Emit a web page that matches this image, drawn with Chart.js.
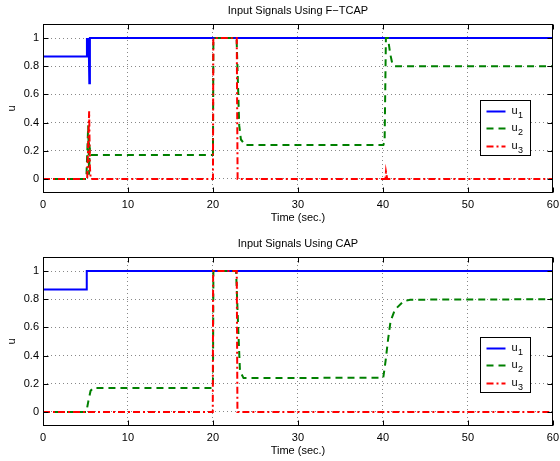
<!DOCTYPE html>
<html>
<head>
<meta charset="utf-8">
<script src="https://cdn.jsdelivr.net/npm/chart.js@4.4.0/dist/chart.umd.min.js"></script>
<style>
  html, body { margin: 0; padding: 0; background: #fff; overflow: hidden; }
  .plot { position: absolute; left: 0; width: 560px; height: 230px; }
</style>
</head>
<body>
<div class="plot" style="top:0"><canvas id="ftcap"></canvas></div>
<div class="plot" style="top:233px"><canvas id="cap"></canvas></div>
<script>
const xTicks = [0, 10, 20, 30, 40, 50, 60];
const yTicks = [0, 0.2, 0.4, 0.6, 0.8, 1];
const seriesNames = ["u₁", "u₂", "u₃"];

// F-TCAP run (time in sec., input value)
const ftcapT1 = [0, 5.15, 5.17, 5.22, 5.27, 5.32, 5.37, 5.45, 5.52, 60];
const ftcapU1 = [0.87, 0.87, 1, 0.88, 1, 0.9, 1, 0.68, 1, 1];
const ftcapT2 = [0, 5.1, 5.32, 5.42, 5.5, 5.65, 20.0, 20.05, 22.78, 23.09, 23.29, 23.8, 40.05, 40.2, 40.35, 40.6, 40.85, 41.1, 41.4, 60];
const ftcapU2 = [0, 0, 0.38, 0.03, 0.22, 0.17, 0.17, 1, 1, 0.38, 0.28, 0.24, 0.24, 0.27, 1, 1, 0.89, 0.82, 0.8, 0.8];
const ftcapT3 = [0, 5.2, 5.43, 5.52, 5.62, 20.0, 20.04, 22.8, 22.9, 40.3, 40.36, 40.5, 60];
const ftcapU3 = [0, 0, 0.48, 0.08, 0, 0, 1, 1, 0, 0, 0.05, 0, 0];

// CAP run
const capT1 = [0, 5.14, 5.15, 60];
const capU1 = [0.87, 0.87, 1, 1];
const capT2 = [0, 5.1, 5.35, 5.6, 5.9, 20.0, 20.05, 22.72, 22.98, 23.18, 23.6, 40.04, 40.31, 40.63, 40.9, 41.41, 42.4, 43.2, 60];
const capU2 = [0, 0, 0.08, 0.15, 0.17, 0.17, 1, 1, 0.58, 0.29, 0.24, 0.243, 0.36, 0.526, 0.644, 0.726, 0.785, 0.797, 0.8];
const capT3 = [0, 19.98, 20.02, 22.8, 22.88, 60];
const capU3 = [0, 0, 1, 1, 0, 0];

const seriesColors = ["#0000ff", "#008000", "#ff0000"];
const seriesDash = [[], [7, 5], [7, 3, 2, 3]];

const fontFamily = '"Liberation Sans", Arial, "DejaVu Sans", sans-serif';
Chart.defaults.font.family = fontFamily;
Chart.defaults.font.size = 11;
Chart.defaults.color = "#000";

// matlab style frame, inward ticks and boxed legend
const boxPlugin = {
  id: "boxLegend",
  afterDatasetsDraw(chart, args, opts) {
    const { ctx, chartArea: a, scales } = chart;
    const L = Math.round(a.left) + 0.5, R = Math.round(a.right) - 0.5;
    const T = Math.round(a.top) + 0.5, B = Math.round(a.bottom) - 0.5;
    ctx.save();
    ctx.strokeStyle = "#000";
    ctx.lineWidth = 1;
    ctx.setLineDash([]);
    ctx.strokeRect(L, T, R - L, B - T);
    ctx.beginPath();
    xTicks.forEach((v) => {
      const px = Math.round(scales.x.getPixelForValue(v)) + 0.5;
      ctx.moveTo(px, B); ctx.lineTo(px, B - 5);
      ctx.moveTo(px, T); ctx.lineTo(px, T + 5);
    });
    yTicks.forEach((v) => {
      const py = Math.round(scales.y.getPixelForValue(v)) + 0.5;
      ctx.moveTo(L, py); ctx.lineTo(L + 5, py);
      ctx.moveTo(R, py); ctx.lineTo(R - 5, py);
    });
    ctx.stroke();

    // legend box
    const w = 50, h = 55;
    const lx = Math.round(a.right - opts.right - w) + 0.5;
    const ly = Math.round(a.top + opts.top) + 0.5;
    ctx.fillStyle = "#fff";
    ctx.fillRect(lx, ly, w, h);
    ctx.strokeRect(lx, ly, w, h);
    chart.data.datasets.forEach((ds, i) => {
      const ry = Math.round(ly + 10 + i * 17.5) + 0.5;
      ctx.beginPath();
      ctx.strokeStyle = ds.borderColor;
      ctx.lineWidth = ds.borderWidth;
      ctx.setLineDash(ds.borderDash);
      ctx.moveTo(lx + 6, ry);
      ctx.lineTo(lx + 25, ry);
      ctx.stroke();
      ctx.setLineDash([]);
      // "u" with a lowered subscript digit
      const base = ds.label.charAt(0);
      const sub = String.fromCharCode(ds.label.charCodeAt(1) - 0x2080 + 48);
      ctx.fillStyle = "#000";
      ctx.textBaseline = "middle";
      ctx.font = "11px " + fontFamily;
      ctx.fillText(base, lx + 31, ry - 1);
      const bw = ctx.measureText(base).width;
      ctx.font = "9px " + fontFamily;
      ctx.fillText(sub, lx + 31 + bw + 0.5, ry + 4);
    });
    ctx.restore();
  }
};

function makeChart(id, title, times, values, legendTop) {
  const datasets = values.map((vals, i) => ({
    label: seriesNames[i],
    data: times[i].map((t, k) => ({ x: t, y: vals[k] })),
    borderColor: seriesColors[i],
    borderWidth: 2,
    borderDash: seriesDash[i],
    pointRadius: 0,
    tension: 0,
    fill: false,
    order: 3 - i
  }));

  return new Chart(document.getElementById(id), {
    type: "line",
    data: { datasets },
    options: {
      responsive: true,
      maintainAspectRatio: false,
      animation: false,
      layout: { padding: { left: 0, right: 7, top: 0, bottom: 0 } },
      plugins: {
        legend: { display: false },
        tooltip: { enabled: false },
        title: {
          display: true,
          text: title,
          fullSize: false,
          color: "#000",
          font: { size: 11, weight: "normal" },
          padding: { top: 4.4, bottom: 6.4 }
        },
        boxLegend: { top: legendTop, right: 23 }
      },
      scales: {
        x: {
          type: "linear",
          min: 0,
          max: 60,
          afterBuildTicks: (s) => { s.ticks = xTicks.map((v) => ({ value: v })); },
          afterFit: (s) => { s.height = 37; },
          grid: { color: "#888", drawTicks: true, tickLength: 4, tickColor: "rgba(0,0,0,0)" },
          border: { display: false, dash: [1, 3] },
          ticks: { padding: 1, maxRotation: 0, autoSkip: false, color: "#000" },
          title: { display: true, text: "Time (sec.)", color: "#000", padding: { top: 0, bottom: 5.4 } }
        },
        y: {
          min: -0.1,
          max: 1.1,
          afterBuildTicks: (s) => { s.ticks = yTicks.map((v) => ({ value: v })); },
          afterFit: (s) => { s.width = 43; },
          grid: { color: "#888", drawTicks: false },
          border: { display: false, dash: [1, 3] },
          ticks: { padding: 4, color: "#000", callback: (v) => String(v) },
          title: { display: true, text: "u", color: "#000", padding: { top: 5, bottom: 0 } }
        }
      }
    },
    plugins: [boxPlugin]
  });
}

makeChart("ftcap", "Input Signals Using F−TCAP",
  [ftcapT1, ftcapT2, ftcapT3], [ftcapU1, ftcapU2, ftcapU3], 76);
makeChart("cap", "Input Signals Using CAP",
  [capT1, capT2, capT3], [capU1, capU2, capU3], 80);
</script>
</body>
</html>
